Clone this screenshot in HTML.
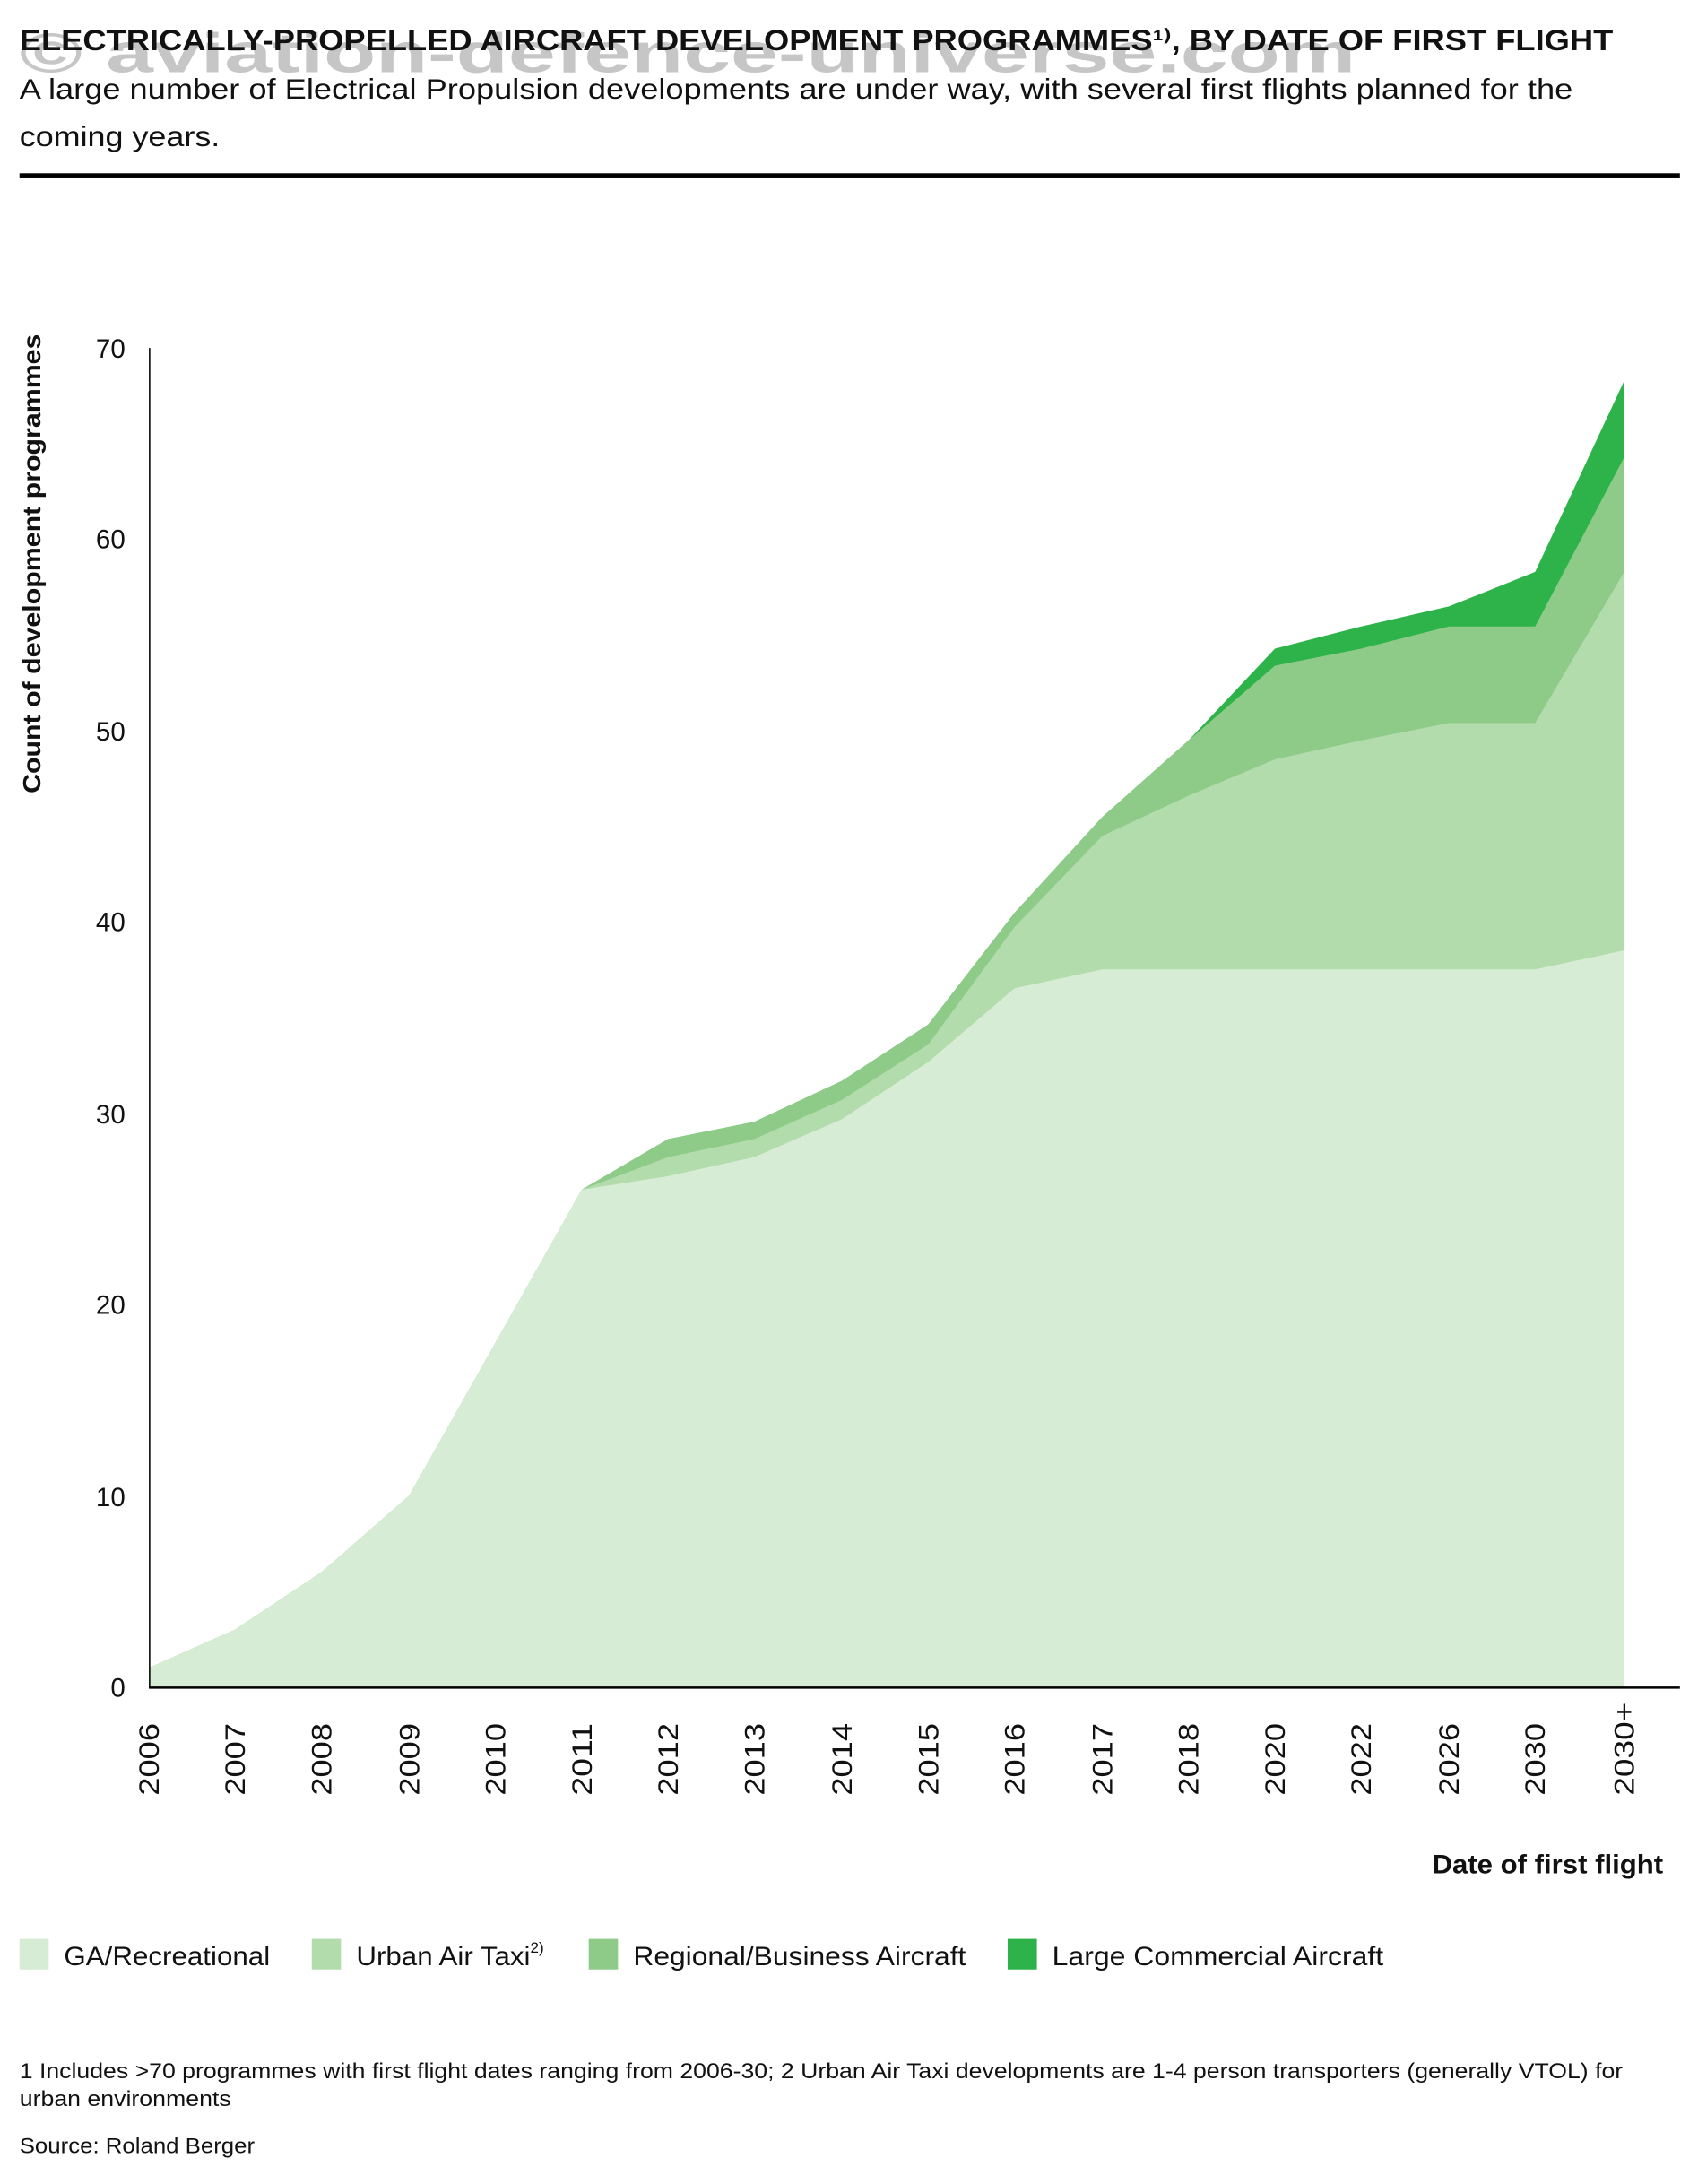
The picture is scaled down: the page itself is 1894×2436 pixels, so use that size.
<!DOCTYPE html>
<html><head><meta charset="utf-8"><style>
html,body{margin:0;padding:0;background:#fff;}
svg{display:block;}
text{font-family:"Liberation Sans",sans-serif;fill:#111;}
</style></head><body>
<svg width="1894" height="2436" viewBox="0 0 1220 1569.1" xmlns="http://www.w3.org/2000/svg">
<text x="14" y="52" font-size="40" font-weight="bold" style="fill:#a8a8a8;opacity:0.65" textLength="960" lengthAdjust="spacingAndGlyphs">© aviation-defence-universe.com</text>
<text x="14" y="36" font-size="21" font-weight="bold" textLength="1145" lengthAdjust="spacingAndGlyphs">ELECTRICALLY-PROPELLED AIRCRAFT DEVELOPMENT PROGRAMMES¹⁾, BY DATE OF FIRST FLIGHT</text>
<text x="14" y="71" font-size="20" textLength="1116" lengthAdjust="spacingAndGlyphs">A large number of Electrical Propulsion developments are under way, with several first flights planned for the</text>
<text x="14" y="105" font-size="20" textLength="144" lengthAdjust="spacingAndGlyphs">coming years.</text>
<rect x="14" y="124.5" width="1193" height="3" fill="#000"/>

<g>
<polygon fill="#2db34a" points="107,1198.3 169,1170.8 231,1129.6 294,1074.6 356,964.7 418,854.8 480,818.4 542,806.0 605,776.5 667,736.0 729,655.7 792,587.0 854,531.9 916,466.0 978,450.1 1041,435.7 1103,410.9 1167,273.5 1167,1212 107,1212"/>
<polygon fill="#8ecb88" points="107,1198.3 169,1170.8 231,1129.6 294,1074.6 356,964.7 418,854.8 480,818.4 542,806.0 605,776.5 667,736.0 729,655.7 792,587.0 854,531.9 916,478.3 978,466.0 1041,450.1 1103,450.1 1167,328.4 1167,1212 107,1212"/>
<polygon fill="#b3dcad" points="107,1198.3 169,1170.8 231,1129.6 294,1074.6 356,964.7 418,854.8 480,831.3 542,818.4 605,790.2 667,750.3 729,666.0 792,600.6 854,571.6 916,545.6 978,532.0 1041,519.5 1103,519.5 1167,410.9 1167,1212 107,1212"/>
<polygon fill="#d7ecd4" points="107,1198.3 169,1170.8 231,1129.6 294,1074.6 356,964.7 418,854.8 480,845.0 542,831.3 605,804.0 667,763.0 729,710.0 792,696.5 854,696.5 916,696.5 978,696.5 1041,696.5 1103,696.5 1167,682.8 1167,1212 107,1212"/>
</g>
<line x1="107.5" y1="250" x2="107.5" y2="1213" stroke="#000" stroke-width="1"/>
<line x1="107" y1="1212.5" x2="1207" y2="1212.5" stroke="#000" stroke-width="1.6"/>

<g font-size="19" text-anchor="end">
<text x="90" y="1219">0</text>
<text x="90" y="1082">10</text>
<text x="90" y="944">20</text>
<text x="90" y="807">30</text>
<text x="90" y="669">40</text>
<text x="90" y="532">50</text>
<text x="90" y="394">60</text>
<text x="90" y="257">70</text>
</g>
<text transform="translate(29,405) rotate(-90)" font-size="18" font-weight="bold" text-anchor="middle" textLength="330" lengthAdjust="spacingAndGlyphs">Count of development programmes</text>

<g font-size="20" text-anchor="start">
<text transform="translate(114,1290) rotate(-90)" textLength="52" lengthAdjust="spacingAndGlyphs">2006</text>
<text transform="translate(176,1290) rotate(-90)" textLength="52" lengthAdjust="spacingAndGlyphs">2007</text>
<text transform="translate(238,1290) rotate(-90)" textLength="52" lengthAdjust="spacingAndGlyphs">2008</text>
<text transform="translate(301,1290) rotate(-90)" textLength="52" lengthAdjust="spacingAndGlyphs">2009</text>
<text transform="translate(363,1290) rotate(-90)" textLength="52" lengthAdjust="spacingAndGlyphs">2010</text>
<text transform="translate(425,1290) rotate(-90)" textLength="52" lengthAdjust="spacingAndGlyphs">2011</text>
<text transform="translate(487,1290) rotate(-90)" textLength="52" lengthAdjust="spacingAndGlyphs">2012</text>
<text transform="translate(549,1290) rotate(-90)" textLength="52" lengthAdjust="spacingAndGlyphs">2013</text>
<text transform="translate(612,1290) rotate(-90)" textLength="52" lengthAdjust="spacingAndGlyphs">2014</text>
<text transform="translate(674,1290) rotate(-90)" textLength="52" lengthAdjust="spacingAndGlyphs">2015</text>
<text transform="translate(736,1290) rotate(-90)" textLength="52" lengthAdjust="spacingAndGlyphs">2016</text>
<text transform="translate(799,1290) rotate(-90)" textLength="52" lengthAdjust="spacingAndGlyphs">2017</text>
<text transform="translate(861,1290) rotate(-90)" textLength="52" lengthAdjust="spacingAndGlyphs">2018</text>
<text transform="translate(923,1290) rotate(-90)" textLength="52" lengthAdjust="spacingAndGlyphs">2020</text>
<text transform="translate(985,1290) rotate(-90)" textLength="52" lengthAdjust="spacingAndGlyphs">2022</text>
<text transform="translate(1048,1290) rotate(-90)" textLength="52" lengthAdjust="spacingAndGlyphs">2026</text>
<text transform="translate(1110,1290) rotate(-90)" textLength="52" lengthAdjust="spacingAndGlyphs">2030</text>
<text transform="translate(1174,1290) rotate(-90)" textLength="67" lengthAdjust="spacingAndGlyphs">2030+</text>
</g>
<text x="1195" y="1346" font-size="19" font-weight="bold" text-anchor="end" textLength="166" lengthAdjust="spacingAndGlyphs">Date of first flight</text>

<g font-size="19">
<rect x="14" y="1393" width="21" height="22" fill="#d7ecd4"/>
<text x="46" y="1412" textLength="148" lengthAdjust="spacingAndGlyphs">GA/Recreational</text>
<rect x="224" y="1393" width="21" height="22" fill="#b3dcad"/>
<text x="256" y="1412" textLength="125" lengthAdjust="spacingAndGlyphs">Urban Air Taxi</text>
<text x="381" y="1403" font-size="11">2)</text>
<rect x="423" y="1393" width="21" height="22" fill="#8ecb88"/>
<text x="455" y="1412" textLength="239" lengthAdjust="spacingAndGlyphs">Regional/Business Aircraft</text>
<rect x="724" y="1393" width="21" height="22" fill="#2db34a"/>
<text x="756" y="1412" textLength="238" lengthAdjust="spacingAndGlyphs">Large Commercial Aircraft</text>
</g>

<g font-size="15.5">
<text x="14" y="1493" textLength="1152" lengthAdjust="spacingAndGlyphs">1 Includes &gt;70 programmes with first flight dates ranging from 2006-30; 2 Urban Air Taxi developments are 1-4 person transporters (generally VTOL) for</text>
<text x="14" y="1513" textLength="152" lengthAdjust="spacingAndGlyphs">urban environments</text>
<text x="14" y="1547" textLength="169" lengthAdjust="spacingAndGlyphs">Source: Roland Berger</text>
</g>
</svg>
</body></html>
